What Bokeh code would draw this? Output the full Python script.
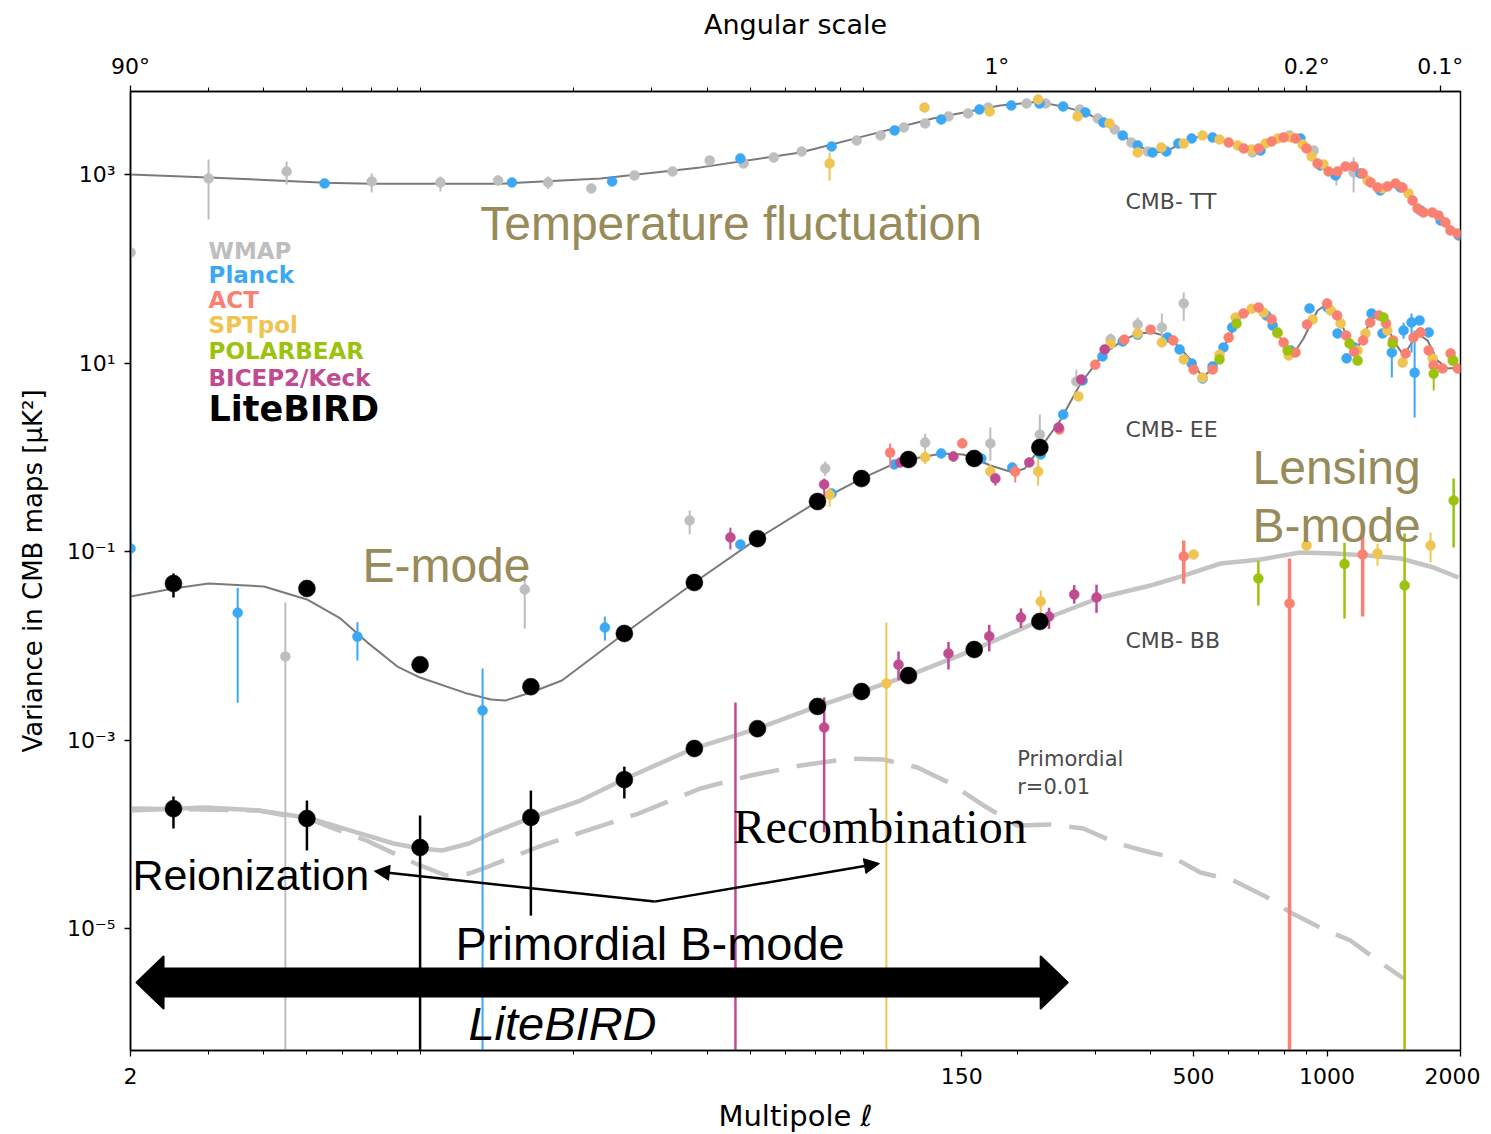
import math
from bokeh.plotting import figure
from bokeh.models import FixedTicker, LogAxis, Label, Arrow, NormalHead
from bokeh.embed import file_html
from bokeh.resources import INLINE

# ---------------- colours ----------------
C_WMAP = "#bebebe"
C_PLANCK = "#3ca8f5"
C_ACT = "#fa8072"
C_SPT = "#efc452"
C_PB = "#9cc20e"
C_BK = "#c04b91"
C_LB = "#000000"
C_OLIVE = "#968b59"
C_THEORY = "#7a7a7a"
C_BBTH = "#c4c4c4"

# ---------------- theory curves ----------------
tt_l = [2, 3, 5.5, 7, 10, 13.7, 23, 38.6, 64.9, 91.8, 129, 183, 223, 254, 285, 313, 346, 374, 404, 434,
        472, 524, 555, 606, 672, 719, 798, 849, 904, 952, 1008, 1112, 1203, 1300, 1426, 1503, 1584, 1686,
        1804, 1900, 2000]
tt_d = [1000, 930, 820, 800, 800, 800, 907, 1190, 1710, 2600, 3930, 5400, 5900, 5250, 4550, 3570, 2600,
        2030, 1710, 1750, 2190, 2600, 2470, 2130, 1800, 2030, 2470, 2410, 1890, 1310, 1050, 1190, 1025,
        728, 803, 676, 469, 395, 350, 267, 235]

ee_l = [2, 2.5, 3, 4, 5, 5.95, 6.85, 8, 9, 11.5, 13, 14, 16, 18.8, 26, 37.4, 51.9, 70.9, 89.1, 105.7,
        113.7, 135.5, 151, 160, 174, 196, 208, 226, 250, 278, 313, 346, 374, 404, 437, 467, 500, 524, 552,
        584, 638, 697, 734, 773, 815, 841, 885, 952, 1003, 1056, 1112, 1160, 1209, 1273, 1341, 1413, 1488,
        1601, 1686, 1776, 1870, 1980]
ee_d = [0.0333, 0.0405, 0.0457, 0.0425, 0.031, 0.0195, 0.0108, 0.00602, 0.0046, 0.00311, 0.00269,
        0.00262, 0.00319, 0.00428, 0.0135, 0.0469, 0.137, 0.339, 0.594, 0.857, 0.945, 1.096, 1.07, 0.97,
        0.818, 0.689, 0.76, 1.27, 2.45, 6.06, 12.6, 17.3, 20.6, 21.1, 19.1, 14.3, 9.88, 7.02, 8.74, 14.6,
        30.4, 38.8, 33.5, 20.6, 13.6, 12.6, 18.2, 36.1, 42.8, 33.5, 18.2, 12.6, 20.6, 30.4, 29.7, 17.3,
        12.0, 20.6, 17.3, 10.6, 8.74, 8.96]

bb_l = [2, 2.95, 3.87, 4.99, 6.5, 7.84, 9.0, 10.1, 11.6, 13.0, 16.1, 20.7, 25.9, 37.2, 51.9, 70.9, 89.1,
        113.7, 160, 223, 308, 400, 475, 575, 708, 871, 1034, 1234, 1465, 1739, 1980]
bb_d = [1.79e-4, 1.92e-4, 1.79e-4, 1.51e-4, 1.04e-4, 7.98e-5, 7.06e-5, 6.73e-5, 7.98e-5, 1.02e-4,
        1.51e-4, 2.28e-4, 3.81e-4, 8.12e-4, 1.32e-3, 2.27e-3, 3.27e-3, 4.83e-3, 9.12e-3, 0.0181, 0.0325,
        0.0436, 0.0556, 0.0746, 0.0823, 0.0976, 0.0953, 0.0907, 0.0843, 0.0676, 0.053]

prim_l = [2, 3.91, 5.15, 6.81, 8.79, 10.3, 11.6, 13.0, 16.5, 20.7, 28.0, 38.6, 50.1, 64.9, 84.2, 99.9,
          119.2, 141.5, 168, 200, 238, 282, 337, 400, 450, 518, 615, 734, 827, 967, 1129, 1300, 1488]
prim_d = [1.88e-4, 1.79e-4, 1.40e-4, 8.59e-5, 4.90e-5, 3.65e-5, 3.83e-5, 4.66e-5, 7.24e-5, 1.04e-4,
          1.66e-4, 3.06e-4, 4.20e-4, 5.36e-4, 6.36e-4, 6.21e-4, 5.11e-4, 3.46e-4, 2.02e-4, 1.24e-4,
          1.27e-4, 1.15e-4, 7.98e-5, 6.40e-5, 5.67e-5, 3.93e-5, 3.23e-5, 2.13e-5, 1.48e-5, 1.02e-5,
          7.46e-6, 4.57e-6, 2.95e-6]

# ---------------- TT data ----------------
wmap_tt_l = [2, 3, 4.5, 7, 10, 13.5, 17.5, 21.9, 27.4, 33.4, 40.5, 48.3, 56.5, 65.3, 86.9, 98.4, 111, 124,
             140, 155, 172, 210, 232, 277, 304, 332, 362, 394, 679, 823, 933, 1050, 1148]
wmap_tt_d = [149, 907, 1076, 843, 822, 864, 822, 710, 976, 1076, 1408, 1309, 1514, 1753, 2293, 2592, 3155,
             3477, 4125, 4436, 5138, 5664, 5664, 4893, 3930, 3000, 2184, 1753, 1710, 2592, 1798, 1025, 1050]
wmap_tt_el = [3, 4.5, 7, 10, 13.5, 17.5, 21.9, 1050, 1148]
wmap_tt_lo = [333, 783, 644, 660, 760, 700, 644, 764, 644]
wmap_tt_hi = [1443, 1374, 1025, 953, 960, 953, 783, 1186, 1514]

planck_tt_l = [5.48, 14.5, 24.4, 47.5, 76.3, 105.8, 134.8, 164.4, 194, 224.6, 254, 285, 313, 346, 374, 404,
               434, 462, 495, 552, 708, 871, 966, 1045, 1190, 1318, 1465, 1626, 1804, 1981]
planck_tt_d = [803, 822, 843, 1479, 1981, 2930, 3828, 4893, 5397, 5664, 5260, 4550, 3565, 2592, 2032, 1710,
               1753, 2133, 2411, 2470, 1798, 2411, 1245, 976, 1025, 676, 728, 415, 325, 226]

spt_tt_l = [75.5, 123.6, 173.4, 223, 273.7, 323, 374, 423, 475, 524, 572, 629, 676, 727, 774, 828, 881, 923,
            982, 1234, 1334, 1527]
spt_tt_d = [1309, 5138, 4660, 6250, 4125, 3477, 1710, 1932, 2133, 2592, 2350, 2032, 1843, 2133, 2411, 2470,
            2081, 1551, 1277, 864, 711, 630]
spt_tt_el = [75.5]
spt_tt_lo = [864]
spt_tt_hi = [1710]

act_tt_l = [600, 649, 701, 750, 798, 849, 899, 952, 1008, 1056, 1101, 1148, 1203, 1254, 1300, 1369, 1427,
            1479, 1559, 1600, 1650, 1728, 1784, 1849, 1898, 1968]
act_tt_d = [2184, 1887, 1887, 2240, 2470, 2411, 1887, 1309, 1076, 1076, 1216, 1216, 1025, 822, 728, 746, 803,
            728, 530, 436, 395, 395, 367, 310, 255, 237]

# ---------------- EE data ----------------
wmap_ee_l = [4.47, 15.5, 36.5, 73.8, 124, 174, 225, 272, 325, 374, 424, 475]
wmap_ee_d = [0.00769, 0.0395, 0.213, 0.76, 1.43, 1.40, 1.74, 6.37, 17.8, 25.6, 23.8, 42.8]
wmap_ee_lo = [1e-7, 0.0152, 0.152, 0.63, 1.2, 0.92, 1.27, 5.75, 15.3, 22.1, 15.5, 28]
wmap_ee_hi = [0.0288, 0.053, 0.272, 0.9, 1.78, 2.07, 2.84, 8.5, 20.6, 30.4, 33.5, 56]

planck_ee_l = [2, 3.49, 6.5, 12.45, 23.5, 47.5, 76.3, 105.7, 134.8, 166, 195, 226, 254, 281, 311.5, 346,
               374, 437, 465, 495, 524, 552, 584, 611, 730, 754, 828, 913, 1003, 1056, 1107, 1153, 1260,
               1334, 1400, 1488, 1551, 1576, 1617, 1695]
planck_ee_d = [0.1076, 0.0224, 0.0125, 0.00206, 0.0156, 0.1186, 0.412, 0.839, 1.096, 0.97, 0.778, 1.07,
               2.84, 6.52, 11.7, 16.9, 20, 18.6, 13.9, 9.9, 6.84, 9.2, 14.6, 23.8, 31.9, 25, 13.6, 37.9,
               38.8, 20.6, 11.2, 14.6, 33.5, 20.6, 12.9, 22.1, 26.9, 7.88, 28.2, 21.1]
planck_ee_el = [2, 3.49, 6.5, 12.45, 23.5, 1400, 1488, 1551, 1576]
planck_ee_lo = [0.063, 0.00248, 0.00697, 1e-7, 0.01135, 7.0, 18.1, 12.9, 2.64]
planck_ee_hi = [0.167, 0.0412, 0.0178, 0.00574, 0.0204, 17.3, 26.8, 33.5, 22.1]

spt_ee_l = [75.5, 124, 174, 223, 275, 325, 374, 424, 475, 524, 572, 622, 676, 719, 773, 819, 928, 1019,
            1073, 1172, 1221, 1368, 1481, 1626, 1730, 1919]
spt_ee_d = [0.40, 1.0, 0.706, 0.706, 4.42, 16.0, 20.6, 16.5, 10.9, 7.0, 12.2, 30.4, 37.6, 34.3, 20.6, 12.0,
            29.0, 36.1, 26.2, 13.6, 20.6, 22.1, 10.1, 21.1, 11.2, 10.6]
spt_ee_el = [75.5, 124, 174, 223]
spt_ee_lo = [0.30, 0.85, 0.60, 0.50]
spt_ee_hi = [0.476, 1.2, 0.85, 0.97]

act_ee_l = [103.4, 150.4, 198, 249, 300, 349, 400, 450, 500, 552, 600, 648, 701, 750, 798, 849, 901, 1000,
            1054, 1104, 1151, 1206, 1251, 1310, 1359, 1409, 1504, 1567, 1626, 1695, 1740, 1822, 1900, 1972]
act_ee_d = [1.12, 1.40, 0.706, 1.97, 9.6, 17.7, 22.6, 17.3, 8.53, 8.53, 18.6, 33.5, 38.8, 29.0, 16.5, 12.9,
            25.6, 42.8, 31.9, 19.6, 13.2, 17.3, 26.9, 31.9, 26.2, 17.3, 12.6, 18.6, 21.1, 13.6, 9.4, 8.74,
            12.6, 8.74]
act_ee_el = [103.4, 150.4, 198]
act_ee_lo = [0.78, 1.26, 0.54]
act_ee_hi = [1.40, 1.6, 0.82]

pb_ee_l = [572, 625, 773, 815, 1124, 1172, 1341, 1405, 1740, 1926]
pb_ee_d = [10.9, 26.2, 21.1, 13.6, 16.1, 10.6, 30.4, 16.1, 7.7, 10.6]
pb_ee_el = [1172, 1740]
pb_ee_lo = [9.5, 5.1]
pb_ee_hi = [12.0, 9.0]

bk_ee_l = [45.1, 73.4, 109, 143.6, 178.6, 213, 248, 279, 315]
bk_ee_d = [0.141, 0.514, 0.88, 1.02, 0.595, 0.88, 2.07, 6.68, 13.9]
bk_ee_el = [45.1, 73.4, 143.6, 178.6]
bk_ee_lo = [0.105, 0.374, 0.90, 0.50]
bk_ee_hi = [0.179, 0.594, 1.15, 0.67]

# ---------------- BB data ----------------
bk_bb_l = [46.3, 73.4, 108, 140, 173, 204, 236, 269, 302]
bk_bb_d = [1e-7, 1.36e-3, 6.3e-3, 8.28e-3, 0.0126, 0.0199, 0.0204, 0.035, 0.0325]
bk_bb_lo = [1e-7, 1.05e-4, 4.3e-3, 5.6e-3, 8.7e-3, 0.0155, 0.0151, 0.028, 0.0223]
bk_bb_hi = [2.5e-3, 2.83e-3, 8.7e-3, 0.011, 0.0167, 0.0249, 0.0253, 0.044, 0.0445]

spt_bb_l = [101.4, 226, 500, 899, 1300, 1712]
spt_bb_d = [3.98e-3, 0.0295, 0.093, 0.116, 0.0953, 0.116]
spt_bb_lo = [1e-7, 0.0218, 0.093, 0.116, 0.0706, 0.077]
spt_bb_hi = [0.01765, 0.0386, 0.093, 0.116, 0.121, 0.159]

act_bb_l = [475, 823, 1203]
act_bb_d = [0.0887, 0.0281, 0.0928]
act_bb_lo = [0.0456, 1e-7, 0.0204]
act_bb_hi = [0.131, 0.0843, 0.155]

pb_bb_l = [700, 1095, 1496, 1930]
pb_bb_d = [0.0517, 0.0737, 0.0436, 0.348]
pb_bb_lo = [0.0267, 0.0195, 1e-7, 0.110]
pb_bb_hi = [0.0799, 0.124, 0.155, 0.594]

# ---------------- LiteBIRD forecast ----------------
lb_l = [2.5, 5, 9, 16, 26, 37.4, 51.9, 70.9, 89.1, 113.7, 160, 225]
lb_ee_d = [0.0457, 0.0405, 0.0063, 0.00368, 0.0135, 0.0469, 0.137, 0.339, 0.594, 0.945, 0.97, 1.27]
lb_ee_el = [2.5]
lb_ee_lo = [0.0325]
lb_ee_hi = [0.0584]
lb_bb_d = [1.87e-4, 1.47e-4, 7.24e-5, 1.51e-4, 3.8e-4, 8.12e-4, 1.32e-3, 2.27e-3, 3.27e-3, 4.83e-3,
           9.12e-3, 0.0181]
lb_bb_el = [2.5, 5, 9, 16, 26]
lb_bb_lo = [1.15e-4, 6.73e-5, 1e-7, 1.37e-5, 2.4e-4]
lb_bb_hi = [2.51e-4, 2.28e-4, 1.58e-4, 2.91e-4, 5.22e-4]

# ---------------- axes ----------------
x_major = [2, 150, 500, 1000, 2000]
x_major_labels = ["2", "150", "500", "1000", "2000"]
x_minor = [3, 4, 5, 6, 7, 8, 9, 20, 30, 40, 50, 60, 70, 80, 90, 200, 300, 400, 500, 600, 700, 800, 900]
top_major = [2, 180, 900, 1800]
top_major_labels = ["90°", "1°", "0.2°", "0.1°"]
y_major = [1e3, 1e1, 1e-1, 1e-3, 1e-5]
y_major_labels = ["10³", "10¹", "10⁻¹", "10⁻³", "10⁻⁵"]

X_MIN, X_MAX = 2, 2000
Y_MIN, Y_MAX = 5.08e-7, 7597
FRAME_W, FRAME_H = 1330, 959
FONT = "DejaVu Sans"
X_PPD = FRAME_W / (math.log10(X_MAX) - math.log10(X_MIN))
Y_PPD = FRAME_H / (math.log10(Y_MAX) - math.log10(Y_MIN))

p = figure(x_axis_type="log", y_axis_type="log", x_range=(X_MIN, X_MAX), y_range=(Y_MIN, Y_MAX),
           frame_width=FRAME_W, frame_height=FRAME_H, min_border_left=130, min_border_right=20,
           min_border_top=91, min_border_bottom=0, output_backend="svg", toolbar_location=None)
p.xgrid.visible = False
p.ygrid.visible = False
p.outline_line_color = "black"
p.outline_line_width = 1.5
p.background_fill_color = "white"
p.border_fill_color = "white"


def style_axis(ax, label_size="28px", tick_size="23px"):
    ax.axis_line_color = "black"
    ax.axis_line_width = 1.5
    ax.major_tick_line_color = "black"
    ax.minor_tick_line_color = "black"
    ax.major_tick_line_width = 1.3
    ax.minor_tick_line_width = 1.0
    ax.major_tick_out = 6
    ax.major_tick_in = 0
    ax.minor_tick_out = 4
    ax.minor_tick_in = 0
    ax.major_label_text_font = FONT
    ax.major_label_text_font_size = tick_size
    ax.major_label_text_color = "black"
    ax.axis_label_text_font = FONT
    ax.axis_label_text_font_size = label_size
    ax.axis_label_text_font_style = "normal"
    ax.axis_label_text_color = "black"


xa = p.xaxis[0]
xa.ticker = FixedTicker(ticks=x_major, minor_ticks=x_minor)
xa.major_label_overrides = {t: s for t, s in zip(x_major, x_major_labels)}
xa.axis_label = "Multipole ℓ"
style_axis(xa, "29px", "22px")
xa.major_label_standoff = 11
xa.axis_label_standoff = 12

ya = p.yaxis[0]
ya.ticker = FixedTicker(ticks=y_major, minor_ticks=[])
ya.major_label_overrides = {t: s for t, s in zip(y_major, y_major_labels)}
ya.axis_label = "Variance in CMB maps [μK²]"
style_axis(ya, "26px", "22px")
ya.major_label_standoff = 9
ya.axis_label_standoff = 16

ta = LogAxis(ticker=FixedTicker(ticks=top_major, minor_ticks=x_minor), axis_label="Angular scale")
ta.major_label_overrides = {t: s for t, s in zip(top_major, top_major_labels)}
style_axis(ta, "27px", "22px")
ta.major_label_standoff = 7
ta.axis_label_standoff = 11
p.add_layout(ta, "above")


# ---------------- helpers ----------------
def errbars(l, lo, hi, color, w=2.0):
    p.segment(x0=l, y0=lo, x1=l, y1=hi, line_color=color, line_width=w)


def dots(l, d, color, size=10):
    p.scatter(l, d, size=size, fill_color=color, line_color=color, line_width=0.5)


# theory curves
p.line(tt_l, tt_d, line_color=C_THEORY, line_width=2)
p.line(ee_l, ee_d, line_color=C_THEORY, line_width=2)
p.line(bb_l, bb_d, line_color=C_BBTH, line_width=4.5)
p.line(prim_l, prim_d, line_color=C_BBTH, line_width=4.5, line_dash="40 18")

# WMAP
errbars(wmap_tt_el, wmap_tt_lo, wmap_tt_hi, C_WMAP)
dots(wmap_tt_l, wmap_tt_d, C_WMAP)
errbars(wmap_ee_l, wmap_ee_lo, wmap_ee_hi, C_WMAP)
dots(wmap_ee_l, wmap_ee_d, C_WMAP)
# Planck
dots(planck_tt_l, planck_tt_d, C_PLANCK)
errbars(planck_ee_el, planck_ee_lo, planck_ee_hi, C_PLANCK)
dots(planck_ee_l, planck_ee_d, C_PLANCK)
# SPTpol
errbars(spt_tt_el, spt_tt_lo, spt_tt_hi, C_SPT)
dots(spt_tt_l, spt_tt_d, C_SPT)
errbars(spt_ee_el, spt_ee_lo, spt_ee_hi, C_SPT)
dots(spt_ee_l, spt_ee_d, C_SPT)
errbars(spt_bb_l, spt_bb_lo, spt_bb_hi, C_SPT)
dots(spt_bb_l, spt_bb_d, C_SPT)
# ACT
dots(act_tt_l, act_tt_d, C_ACT)
errbars(act_ee_el, act_ee_lo, act_ee_hi, C_ACT)
dots(act_ee_l, act_ee_d, C_ACT)
errbars(act_bb_l, act_bb_lo, act_bb_hi, C_ACT, 3.5)
dots(act_bb_l, act_bb_d, C_ACT)
# POLARBEAR
errbars(pb_ee_el, pb_ee_lo, pb_ee_hi, C_PB)
dots(pb_ee_l, pb_ee_d, C_PB)
errbars(pb_bb_l, pb_bb_lo, pb_bb_hi, C_PB, 2.5)
dots(pb_bb_l, pb_bb_d, C_PB)
# BICEP2/Keck
errbars(bk_ee_el, bk_ee_lo, bk_ee_hi, C_BK)
dots(bk_ee_l, bk_ee_d, C_BK)
errbars(bk_bb_l, bk_bb_lo, bk_bb_hi, C_BK, 2.5)
dots(bk_bb_l, bk_bb_d, C_BK)
# LiteBIRD
errbars(lb_ee_el, lb_ee_lo, lb_ee_hi, C_LB, 2.5)
dots(lb_l, lb_ee_d, C_LB, 17)
errbars(lb_bb_el, lb_bb_lo, lb_bb_hi, C_LB, 2.5)
dots(lb_l, lb_bb_d, C_LB, 17)

# ---------------- text annotations ----------------
BASE_SHIFT = 0.32  # baseline correction (fraction of font size)


def label(x, y, text, size, color="black", font=FONT, style="normal"):
    px = float(size.replace("px", ""))
    y_adj = y * 10 ** (BASE_SHIFT * px / Y_PPD)
    p.add_layout(Label(x=x, y=y_adj, text=text, text_font=font, text_font_size=size, text_color=color,
                       text_font_style=style, text_baseline="alphabetic", text_align="left"))


label(12.3, 209, "Temperature fluctuation", "48px", C_OLIVE, "Liberation Sans")
label(6.67, 0.0492, "E-mode", "48px", C_OLIVE, "Liberation Sans")
label(679, 0.53, "Lensing", "48px", C_OLIVE, "Liberation Sans")
label(679, 0.1308, "B-mode", "48px", C_OLIVE, "Liberation Sans")

label(351, 436, "CMB- TT", "22px", "#4a4a4a")
label(351, 1.66, "CMB- EE", "22px", "#4a4a4a")
label(351, 0.00965, "CMB- BB", "22px", "#4a4a4a")
label(200, 5.36e-4, "Primordial", "21px", "#4a4a4a")
label(200, 2.68e-4, "r=0.01", "21px", "#4a4a4a")

legend_names = ["WMAP", "Planck", "ACT", "SPTpol", "POLARBEAR", "BICEP2/Keck"]
legend_colors = [C_WMAP, C_PLANCK, C_ACT, C_SPT, C_PB, C_BK]
legend_y = [127.6, 72.0, 38.8, 21.2, 11.08, 5.77]
for name, col, yy in zip(legend_names, legend_colors, legend_y):
    label(3.0, yy, name, "23px", col, FONT, "bold")
label(3.0, 2.45, "LiteBIRD", "35px", C_LB, FONT, "bold")

label(2.02, 2.66e-5, "Reionization", "43px", "black", "Liberation Sans")
label(45.8, 8.28e-5, "Recombination", "48px", "black", "Liberation Serif")
label(10.82, 4.8e-6, "Primordial B-mode", "47px", "black", "Liberation Sans")
label(11.57, 6.76e-7, "LiteBIRD", "47px", "black", "Liberation Sans", "italic")

# thin arrows from "Primordial B-mode" to the two bumps
corner_l, corner_d = 30.4, 1.93e-5
for tip_l, tip_d in [(7.1, 4.06e-5), (97.8, 4.89e-5)]:
    p.add_layout(Arrow(x_start=corner_l, y_start=corner_d, x_end=tip_l, y_end=tip_d, line_width=2.5,
                       line_color="black",
                       end=NormalHead(size=15, fill_color="black", line_color="black", line_width=1)))

# thick double arrow showing the LiteBIRD multipole range
arr_left, arr_right, arr_y = 2.064, 260, 2.67e-6
L, R, Y = math.log10(arr_left), math.log10(arr_right), math.log10(arr_y)
hx = 27 / X_PPD
sy = 14 / Y_PPD
hy = 26 / Y_PPD
poly = [(L, Y), (L + hx, Y + hy), (L + hx, Y + sy), (R - hx, Y + sy), (R - hx, Y + hy), (R, Y),
        (R - hx, Y - hy), (R - hx, Y - sy), (L + hx, Y - sy), (L + hx, Y - hy)]
p.patch([10 ** a for a, b in poly], [10 ** b for a, b in poly], fill_color="black", line_color="black",
        line_width=2, line_join="round")

open("out.html", "w").write(file_html(p, INLINE))
